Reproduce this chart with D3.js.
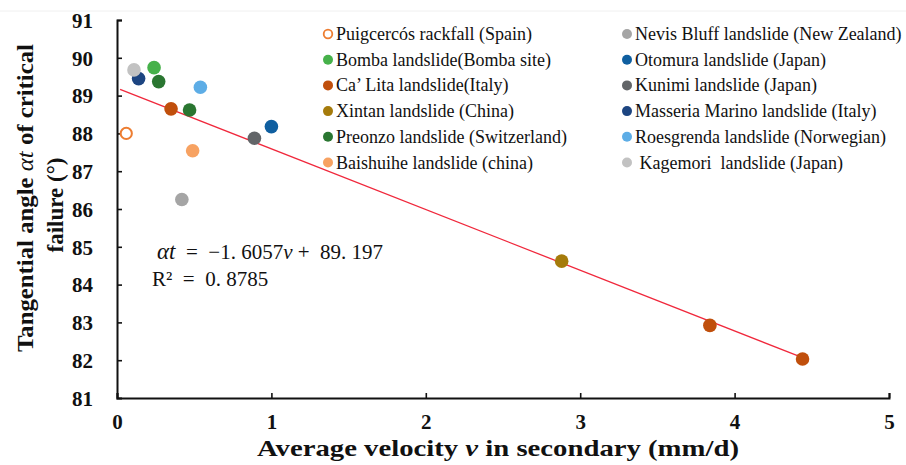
<!DOCTYPE html>
<html>
<head>
<meta charset="utf-8">
<script src="https://cdn.jsdelivr.net/npm/d3@7/dist/d3.min.js"></script>
<style>
  html, body { margin: 0; padding: 0; background: #fff; }
  svg { display: block; }
  text { white-space: pre; }
</style>
</head>
<body>
<svg id="chart" width="906" height="465"></svg>
<script>
// Landslide sites (series order, legend laid out row by row in two columns)
const siteNames = [
  "Puigcercós rackfall (Spain)",
  "Nevis Bluff landslide (New Zealand)",
  "Bomba landslide(Bomba site)",
  "Otomura landslide (Japan)",
  "Ca’ Lita landslide(Italy)",
  "Kunimi landslide (Japan)",
  "Xintan landslide (China)",
  "Masseria Marino landslide (Italy)",
  "Preonzo landslide (Switzerland)",
  "Roesgrenda landslide (Norwegian)",
  "Baishuihe landslide (china)",
  " Kagemori  landslide (Japan)"
];

// Average velocity in the secondary creep stage (mm/d), per site
const velocity = [
  [0.06],
  [0.42],
  [0.24],
  [1.00],
  [0.35, 3.84, 4.44],
  [0.89],
  [2.88],
  [0.14],
  [0.27, 0.47],
  [0.54],
  [0.49],
  [0.11]
];

// Tangential angle at critical failure (degrees), per site
const angle = [
  [88.00],
  [86.25],
  [89.74],
  [88.18],
  [88.65, 82.92, 82.03],
  [87.87],
  [84.62],
  [89.45],
  [89.37, 88.62],
  [89.22],
  [87.54],
  [89.68]
];

const siteColors = [
  "#ed7d31", "#a5a5a5", "#46b14a", "#0f5fa0", "#c04f0c", "#626568",
  "#a57b0b", "#1d4581", "#2a7631", "#5dade6", "#f7a262", "#c2c2c2"
];
const hollowSite = 0;

const xTicks = [0, 1, 2, 3, 4, 5];
const yTicks = [81, 82, 83, 84, 85, 86, 87, 88, 89, 90, 91];

// Linear fit: αt = slope * v + intercept, drawn over the velocity range
const fitSlope = -1.6057;
const fitIntercept = 89.197;
const fitRange = [0.02, 4.44];

const svg = d3.select("#chart");
const serif = "'Liberation Serif', 'Times New Roman', serif";

const x = d3.scaleLinear().domain([0, 5]).range([117, 889]);
const y = d3.scaleLinear().domain([81, 91]).range([398, 20]);

// faint frame line along the top edge
svg.append("line")
  .attr("x1", 0).attr("x2", 906).attr("y1", 11).attr("y2", 11)
  .attr("stroke", "#f0f0f0").attr("stroke-width", 1);

// Axes: ticks point into the plot
const xAxis = d3.axisBottom(x).tickValues(xTicks).tickSizeInner(-5).tickSizeOuter(-5).tickFormat(d3.format("d"));
const yAxis = d3.axisLeft(y).tickValues(yTicks).tickSizeInner(-5).tickSizeOuter(-5).tickFormat(d3.format("d"));

const gx = svg.append("g").attr("transform", `translate(0,${y(81)})`).call(xAxis);
const gy = svg.append("g").attr("transform", `translate(${x(0)},0)`).call(yAxis);

[gx, gy].forEach(g => {
  g.select(".domain").attr("stroke", "#111").attr("stroke-width", 2);
  g.selectAll(".tick line").attr("stroke", "#111").attr("stroke-width", 1.6);
  g.selectAll(".tick text")
    .attr("font-family", serif).attr("font-weight", "bold")
    .attr("font-size", 21).attr("fill", "#111");
});
gx.selectAll(".tick text").attr("dy", null).attr("y", 31);
gy.selectAll(".tick text").attr("x", -24).attr("dy", "0.35em");
gy.selectAll(".tick").filter(d => d === 81).select("line").remove();

// Axis titles
svg.append("text")
  .attr("x", 498).attr("y", 456)
  .attr("text-anchor", "middle")
  .attr("font-family", serif).attr("font-weight", "bold").attr("font-size", 23)
  .attr("textLength", 482).attr("lengthAdjust", "spacingAndGlyphs")
  .attr("fill", "#111")
  .call(t => {
    t.append("tspan").text("Average velocity ");
    t.append("tspan").attr("font-style", "italic").text("v");
    t.append("tspan").text(" in secondary (mm/d)");
  });

const yTitle = svg.append("g").attr("transform", "translate(0,198) rotate(-90)");
yTitle.append("text")
  .attr("x", 0).attr("y", 33)
  .attr("text-anchor", "middle")
  .attr("font-family", serif).attr("font-weight", "bold").attr("font-size", 23)
  .attr("textLength", 308).attr("lengthAdjust", "spacingAndGlyphs")
  .attr("fill", "#111")
  .call(t => {
    t.append("tspan").text("Tangential angle ");
    t.append("tspan").attr("font-style", "italic").attr("font-weight", "normal").text("αt");
    t.append("tspan").text(" of critical");
  });
yTitle.append("text")
  .attr("x", -7).attr("y", 63)
  .attr("text-anchor", "middle")
  .attr("font-family", serif).attr("font-weight", "bold").attr("font-size", 23)
  .attr("fill", "#111")
  .text("failure (°)");

// Fitted line
svg.append("line")
  .attr("x1", x(fitRange[0])).attr("y1", y(fitSlope * fitRange[0] + fitIntercept))
  .attr("x2", x(fitRange[1])).attr("y2", y(fitSlope * fitRange[1] + fitIntercept))
  .attr("stroke", "#f0283c").attr("stroke-width", 1.3);

// Points
const points = siteNames.flatMap((name, i) =>
  velocity[i].map((v, j) => ({ site: i, v, a: angle[i][j] })));

svg.append("g").selectAll("circle").data(points).join("circle")
  .attr("cx", d => x(d.v)).attr("cy", d => y(d.a))
  .attr("r", d => d.site === hollowSite ? 5.6 : 6.8)
  .attr("fill", d => d.site === hollowSite ? "#fff" : siteColors[d.site])
  .attr("stroke", d => d.site === hollowSite ? siteColors[d.site] : "none")
  .attr("stroke-width", 2);

// Fit equation
const eq = svg.append("g").attr("font-family", serif).attr("font-size", 21).attr("fill", "#111");
eq.append("text").attr("x", 157).attr("y", 259)
  .call(t => {
    t.append("tspan").attr("font-style", "italic").attr("font-size", 23).text("αt");
    t.append("tspan").text("  =  −1. 6057");
    t.append("tspan").attr("font-style", "italic").text("v");
    t.append("tspan").text(" +  89. 197");
  });
eq.append("text").attr("x", 152).attr("y", 286)
  .text("R²  =  0. 8785");

// Legend, two columns
const legend = svg.append("g").attr("font-family", serif).attr("font-size", 18).attr("fill", "#111");
const legendCols = [328, 627];
const legendRow0 = 34, legendStep = 25.7;
siteNames.forEach((name, i) => {
  const cx = legendCols[i % 2];
  const cy = legendRow0 + Math.floor(i / 2) * legendStep;
  legend.append("circle")
    .attr("cx", cx).attr("cy", cy)
    .attr("r", i === hollowSite ? 4.3 : 5)
    .attr("fill", i === hollowSite ? "#fff" : siteColors[i])
    .attr("stroke", i === hollowSite ? siteColors[i] : "none")
    .attr("stroke-width", 1.8);
  legend.append("text")
    .attr("x", cx + 8).attr("y", cy + 6)
    .text(name);
});
</script>
</body>
</html>
